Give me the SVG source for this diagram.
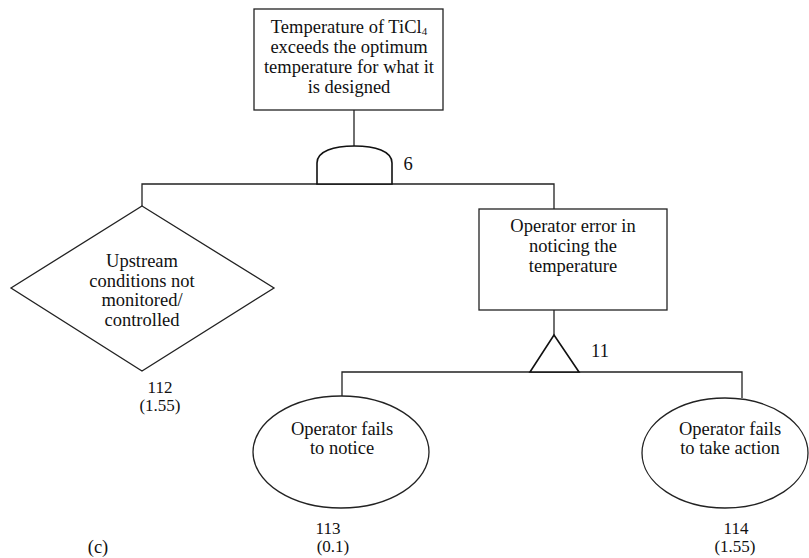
<svg xmlns="http://www.w3.org/2000/svg" width="809" height="558" viewBox="0 0 809 558">
  <style>
    .shape { fill: #fff; stroke: #222; stroke-width: 1.3; }
    .gate { fill: #fff; stroke: #111; stroke-width: 1.6; }
    .wire { fill: none; stroke: #222; stroke-width: 1.3; }
    text { font-family: "Liberation Serif", Tinos, "Times New Roman", "DejaVu Serif", serif; font-size: 18.5px; fill: #111; text-anchor: middle; }
    .num { font-size: 17px; }
  </style>
  <rect width="809" height="558" fill="#fff"/>

  <!-- connectors -->
  <g id="connectors">
    <line class="wire" x1="354" y1="110" x2="354" y2="146"/>
    <polyline class="wire" points="142,206 142,184 554,184 554,209"/>
    <line class="wire" x1="554" y1="310" x2="554" y2="335"/>
    <polyline class="wire" points="342,396 342,372 742,372 742,398"/>
  </g>

  <!-- top event -->
  <g id="top-event">
    <rect class="shape" x="254" y="9" width="189" height="101"/>
    <text x="349" y="33">Temperature of TiCl<tspan font-size="11" dy="1.5">4</tspan></text>
    <text x="349" y="53">exceeds the optimum</text>
    <text x="349" y="73">temperature for what it</text>
    <text x="349" y="93">is designed</text>
  </g>

  <!-- AND gate 6 -->
  <g id="gate-6">
    <path class="gate" d="M317,184 L317,163 C317,151 334,146 354.5,146 C375,146 392,151 392,163 L392,184 Z"/>
    <text x="408" y="170">6</text>
  </g>

  <!-- undeveloped event 112 -->
  <g id="event-112">
    <polygon class="shape" points="142,206 274,288 142,371 11,288"/>
    <text x="142" y="267">Upstream</text>
    <text x="142" y="287">conditions not</text>
    <text x="142" y="306">monitored/</text>
    <text x="142" y="326">controlled</text>
    <text class="num" x="160" y="393">112</text>
    <text class="num" x="160" y="411">(1.55)</text>
  </g>

  <!-- intermediate event -->
  <g id="operator-error">
    <rect class="shape" x="479" y="209" width="188" height="101"/>
    <text x="573" y="232">Operator error in</text>
    <text x="573" y="252">noticing the</text>
    <text x="573" y="272">temperature</text>
  </g>

  <!-- gate 11 -->
  <g id="gate-11">
    <polygon class="gate" points="554,335 579,372 530,372"/>
    <text x="600" y="357">11</text>
  </g>

  <!-- basic event 113 -->
  <g id="event-113">
    <ellipse class="shape" cx="341" cy="452" rx="88" ry="56"/>
    <text x="342" y="435">Operator fails</text>
    <text x="342" y="454">to notice</text>
    <text class="num" x="328" y="534">113</text>
    <text class="num" x="333" y="552">(0.1)</text>
  </g>

  <!-- basic event 114 -->
  <g id="event-114">
    <ellipse class="shape" cx="725" cy="453" rx="83" ry="55"/>
    <text x="730" y="435">Operator fails</text>
    <text x="730" y="454">to take action</text>
    <text class="num" x="736" y="534">114</text>
    <text class="num" x="735" y="552">(1.55)</text>
  </g>

  <text x="98" y="553">(c)</text>
</svg>
